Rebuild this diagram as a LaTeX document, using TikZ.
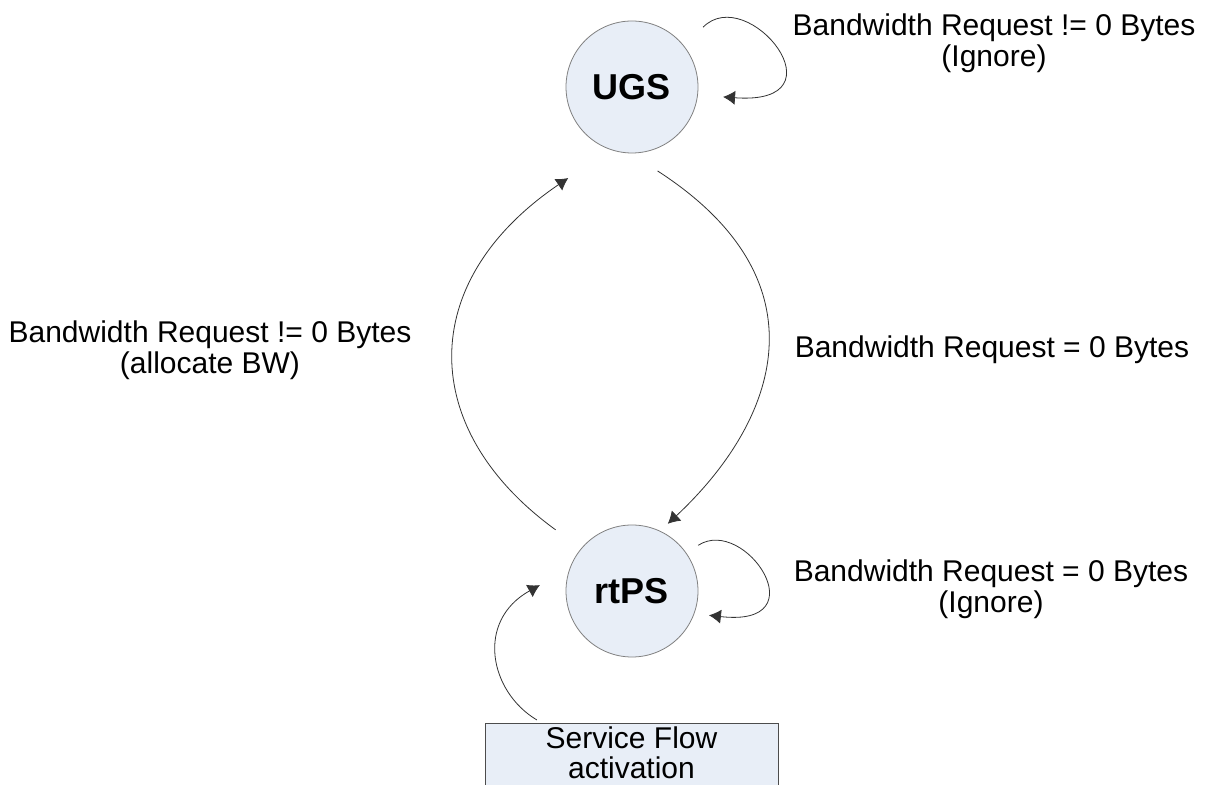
\documentclass[tikz,border=0pt]{standalone}
\usepackage{fontspec}
\setmainfont{Liberation Sans}
\usetikzlibrary{arrows.meta}
\definecolor{statefill}{HTML}{E8EEF7}

\begin{document}
\begin{tikzpicture}
    [
    x=0.5pt, y=-0.5pt,
    state/.style={circle,draw=black!50,fill=statefill,inner sep=0pt,outer sep=0pt,minimum size=66pt,font=\fontsize{18}{20}\selectfont\bfseries},
    cond/.style={align=center,inner sep=0pt,font=\fontsize{15}{15.5}\selectfont},
    source/.style={rectangle,draw=black!70,fill=statefill,minimum width=146.5pt,inner xsep=0pt,inner ysep=1.5pt,text depth=20pt,align=center,anchor=north,font=\fontsize{15}{15}\selectfont},
    trans/.style={draw=black!80,line width=0.4pt,-{Latex[length=6pt,width=7pt]}}
    ]
    \useasboundingbox (0,0) rectangle (1211,785);
    \node (ugs) at (632,87) [state] {UGS};
    \node (rtps) at (632,591) [state] {rtPS};
    \node (sfa) at (631.5,723) [source] {Service Flow\\activation};
    \node (c1) at (994,43) [cond] {Bandwidth Request != 0 Bytes\\(Ignore)};
    \node (c2) at (210,350) [cond] {Bandwidth Request != 0 Bytes\\(allocate BW)};
    \node (c3) at (992,358) [cond,anchor=base] {Bandwidth Request = 0 Bytes};
    \node (c4) at (991,589) [cond] {Bandwidth Request = 0 Bytes\\(Ignore)};
    \draw [trans, shorten <=13.5pt, shorten >=12.8pt] (ugs.38) .. controls +(64,-64.4) and +(150,11) .. (ugs.-7);
    \draw [trans, shorten <=16.6pt, shorten >=5.4pt] (ugs.268) .. controls +(198.3,128) and +(118.1,-110.5) .. (rtps.65);
    \draw [trans, shorten <=16pt, shorten >=25.5pt] (rtps.140) .. controls +(-163.4,-118.6) and +(-195.5,132.6) .. (ugs.251);
    \draw [trans, shorten <=7.2pt, shorten >=7.5pt] (rtps.35) .. controls +(58.9,-38.1) and +(126,14.4) .. (rtps.-20);
    \draw [trans, shorten <=3pt, shorten >=17.2pt] ([xshift=-44.75pt]sfa.north) .. controls +(-52.5,-31.2) and +(-94.8,52.6) .. (rtps.160);
\end{tikzpicture}
\end{document}
